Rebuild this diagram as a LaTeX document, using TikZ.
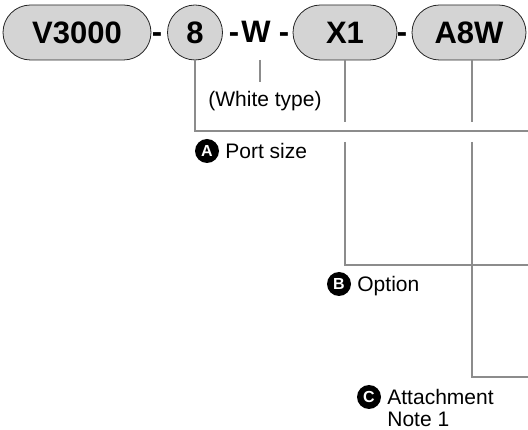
\documentclass[tikz,border=0pt]{standalone}
\usepackage{fontspec}
\setmainfont{Liberation Sans}
\usetikzlibrary{positioning}

\tikzset{
	pill/.style={draw=black!85, fill=black!17, line width=0.8pt, rounded corners=27.5pt, minimum height=55pt, inner sep=0pt, font=\fontsize{31}{31}\selectfont\bfseries},
	sep/.style={inner sep=0pt, anchor=base, font=\fontsize{31}{31}\selectfont\bfseries},
	lead/.style={draw=black!45, line width=2.3pt},
	tag/.style={circle, fill=black, text=white, minimum size=24pt, inner sep=0pt, font=\fontsize{16}{16}\selectfont\bfseries},
	note/.style={inner sep=0pt, text height=15pt, text depth=0pt, font=\fontsize{21}{21}\selectfont},
}

\begin{document}
\begin{tikzpicture}[x=1pt,y=-1pt]
	\useasboundingbox (0,0) rectangle (528,430);

	% code boxes
	\node [pill, minimum width=148pt] (series) at (77,32.5) {V3000};
	\node [pill, circle, rounded corners=0pt, minimum size=55pt] (port) at (195,32.5) {8};
	\node [pill, minimum width=104pt] (option) at (345,32.5) {X1};
	\node [pill, minimum width=114pt] (attach) at (469,32.5) {A8W};

	\node [sep] (d1) at (157,43) {-};
	\node [sep] (d2) at (234,43) {-};
	\node [sep] (white) at (256,43) {W};
	\node [sep] (d3) at (284,43) {-};
	\node [sep] (d4) at (402,43) {-};

	% white type
	\coordinate (wtop) at (260,60);
	\node [note] (whitetype) at (265,99) {(White type)};
	\draw [draw=black!45, line width=1.2pt] (wtop) -- (wtop |- 0,82);

	% end points of the leaders
	\coordinate (portEnd) at (528,131);
	\coordinate (optA) at (345,122);
	\coordinate (optB) at (345,142);
	\coordinate (optEnd) at (528,265);
	\coordinate (attA) at (472,122);
	\coordinate (attB) at (472,142);
	\coordinate (attEnd) at (528,377);

	\draw [lead] (port.south) |- (portEnd);
	\draw [lead] (option.south) -- (optA);
	\draw [lead] (optB) |- (optEnd);
	\draw [lead] (attA |- attach.south) -- (attA);
	\draw [lead] (attB) |- (attEnd);

	% labels
	\node [tag] (tagA) at (207,151) {A};
	\node [note, right=6pt of tagA] (portsize) {Port size};
	\node [tag] (tagB) at (339,284) {B};
	\node [note, right=6pt of tagB] (optname) {Option};
	\node [tag] (tagC) at (369,397) {C};
	\node [note, right=6pt of tagC] (attname) {Attachment};
	\node [note, anchor=north west] (note1) at ([yshift=-7pt]attname.south west) {Note 1};
\end{tikzpicture}
\end{document}
